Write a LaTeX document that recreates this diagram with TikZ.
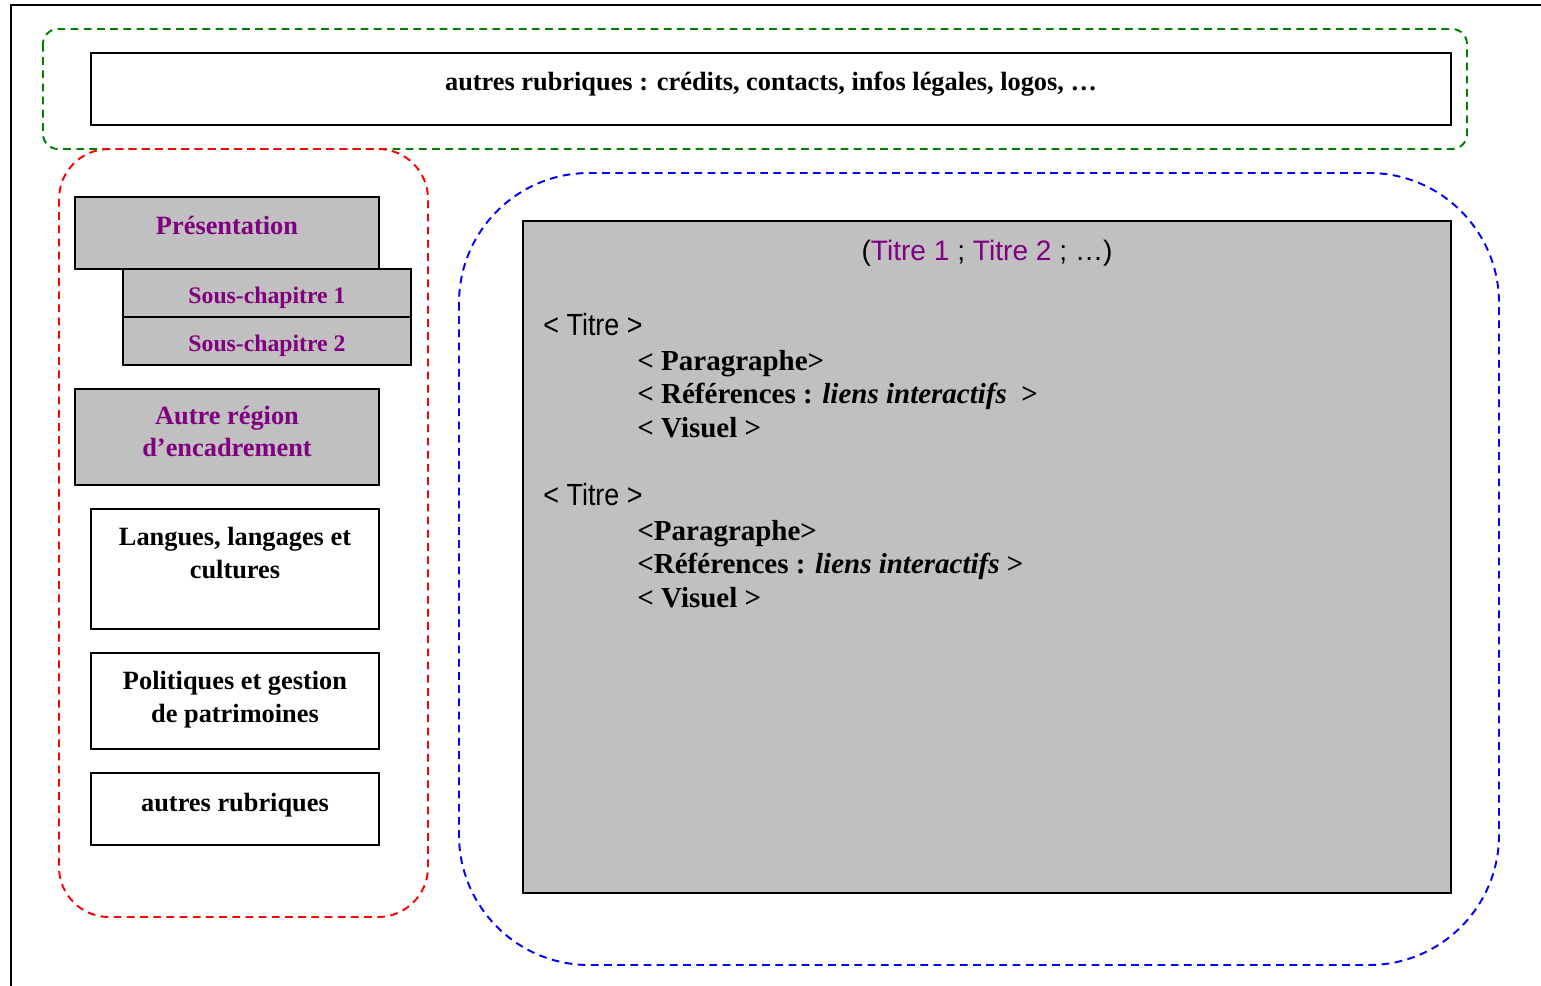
\documentclass[tikz,border=0pt]{standalone}
\usepackage{fontspec}
\setmainfont{Liberation Serif}
\newfontfamily\narrowsans[FakeStretch=0.88]{Liberation Sans}
\newfontfamily\plainsans{Liberation Sans}
\definecolor{zgreen}{RGB}{0,128,0}
\definecolor{zred}{RGB}{255,0,0}
\definecolor{zblue}{RGB}{0,0,255}
\definecolor{rubpurple}{RGB}{128,0,128}
\definecolor{rubgray}{RGB}{192,192,192}
\tikzset{
  pageFrame/.style={draw=black, line width=1.1pt},
  zoneBox/.style={draw=#1, line width=1.1pt, dash pattern=on 4.4pt off 3.1pt},
  grayBox/.style={draw=black, line width=1.1pt, fill=rubgray, inner sep=0pt},
  whiteBox/.style={draw=black, line width=1.1pt, fill=white, inner sep=0pt},
  rubText/.style={inner sep=0pt, anchor=base, align=center,
                  font=\bfseries\fontsize{15}{18.3}\selectfont},
  navText/.style={rubText, text=rubpurple},
  subText/.style={navText, font=\bfseries\fontsize{13.5}{16}\selectfont},
  tagText/.style={inner sep=0pt, anchor=base west,
                  font=\bfseries\fontsize{16.5}{19}\selectfont},
  titreText/.style={inner sep=0pt, anchor=base west,
                    font=\narrowsans\fontsize{17.4}{20}\selectfont}
}
\begin{document}
\begin{tikzpicture}
  \useasboundingbox (0,0) rectangle (30.82,-19.72);
  % page frame
  \draw[pageFrame] (0.22,-19.72) -- (0.22,-0.10) -- (30.82,-0.10);

  % dashed zones
  \draw[zoneBox=zgreen, rounded corners=0.3cm] (0.86,-0.58) rectangle (29.34,-2.98);
  \draw[zoneBox=zred, rounded corners=1cm] (1.18,-2.98) rectangle (8.56,-18.34);
  \draw[zoneBox=zblue, rounded corners=2.6cm] (9.18,-3.46) rectangle (29.98,-19.30);

  % header
  \node[whiteBox, minimum width=27.2cm, minimum height=1.44cm] (header) at (15.42,-1.78) {};
  \node[rubText] (headerTxt) at ([yshift=-0.03cm]header.center)
        {autres rubriques : crédits, contacts, infos légales, logos, …};

  % menu
  \node[grayBox, minimum width=6.08cm, minimum height=1.44cm] (pres) at (4.54,-4.66) {};
  \node[navText] (presTxt) at ([yshift=-0.04cm]pres.center) {Présentation};
  \node[grayBox, minimum width=5.76cm, minimum height=0.96cm] (sc1) at (5.34,-5.86) {};
  \node[subText] (sc1Txt) at ([yshift=-0.21cm]sc1.center) {Sous-chapitre 1};
  \node[grayBox, minimum width=5.76cm, minimum height=0.96cm] (sc2) at (5.34,-6.82) {};
  \node[subText] (sc2Txt) at ([yshift=-0.21cm]sc2.center) {Sous-chapitre 2};
  \node[grayBox, minimum width=6.08cm, minimum height=1.92cm] (autre) at (4.54,-8.74) {};
  \node[navText] (autreTxt) at ([yshift=-0.39cm]autre.center) {Autre région\\d’encadrement};

  \node[whiteBox, minimum width=5.76cm, minimum height=2.40cm] (langues) at (4.70,-11.38) {};
  \node[rubText] (languesTxt) at ([yshift=-0.18cm]langues.center) {Langues, langages et\\cultures};
  \node[whiteBox, minimum width=5.76cm, minimum height=1.92cm] (polit) at (4.70,-14.02) {};
  \node[rubText] (politTxt) at ([yshift=-0.42cm]polit.center) {Politiques et gestion\\de patrimoines};
  \node[whiteBox, minimum width=5.76cm, minimum height=1.44cm] (autres) at (4.70,-16.18) {};
  \node[rubText] (autresTxt) at ([yshift=-0.04cm]autres.center) {autres rubriques};

  % content
  \node[grayBox, minimum width=18.56cm, minimum height=13.44cm] (main) at (19.74,-11.14) {};
  \node[inner sep=0pt, anchor=base, font=\plainsans\fontsize{16}{19}\selectfont] (titres)
        at ([yshift=-0.80cm]main.north)
        {(\textcolor{rubpurple}{Titre 1} ; \textcolor{rubpurple}{Titre 2} ; …)};
  \node[titreText] (titreA) at ([shift={(0.42,-2.30)}]main.north west) {< Titre >};
  \node[tagText] (paraA) at ([shift={(2.30,-3.00)}]main.north west) {< Paragraphe>};
  \node[tagText] (refA) at ([shift={(2.30,-3.66)}]main.north west)
        {< Références : \textit{liens interactifs}~ >};
  \node[tagText] (visA) at ([shift={(2.30,-4.34)}]main.north west) {< Visuel >};
  \node[titreText] (titreB) at ([shift={(0.42,-5.70)}]main.north west) {< Titre >};
  \node[tagText] (paraB) at ([shift={(2.30,-6.40)}]main.north west) {<Paragraphe>};
  \node[tagText] (refB) at ([shift={(2.30,-7.06)}]main.north west)
        {<Références : \textit{liens interactifs} >};
  \node[tagText] (visB) at ([shift={(2.30,-7.74)}]main.north west) {< Visuel >};
\end{tikzpicture}
\end{document}
